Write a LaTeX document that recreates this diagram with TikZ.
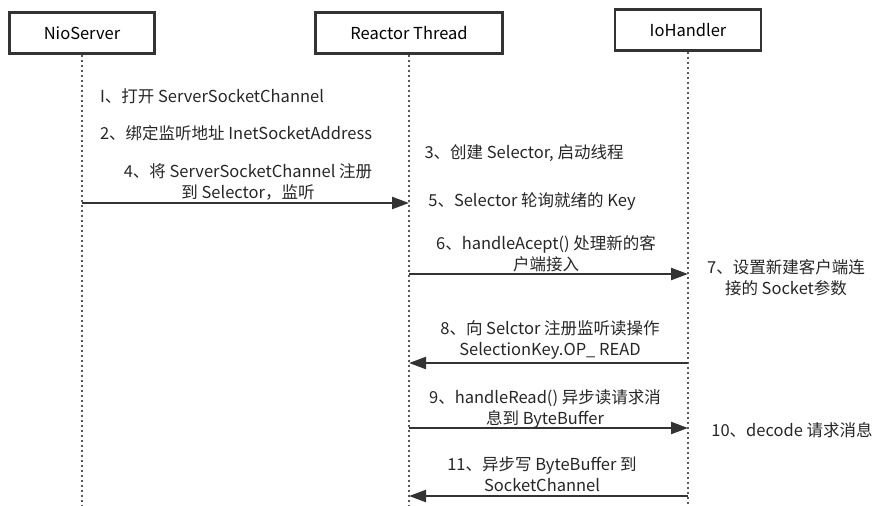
\documentclass[tikz,border=0pt]{standalone}
\usepackage{fontspec}
\setmainfont{Noto Sans CJK SC}
\usetikzlibrary{positioning,arrows.meta}

\begin{document}
\begin{tikzpicture}[x=1pt,y=-1pt,font=\fontsize{16.5}{21}\selectfont,
  actor/.style={draw=black!80,line width=2.2pt,minimum height=41pt,inner sep=0pt},
  life/.style={draw=black!65,line width=2.2pt,dash pattern=on 2pt off 3pt},
  msg/.style={draw=black!80,line width=2.2pt,-{Triangle[length=17pt,width=12pt]}},
  note/.style={align=center,inner sep=0pt,text=black!85}]
   \useasboundingbox (0,0) rectangle (889,506);
   % participants
   \node[actor,minimum width=145pt] (nio) at (82,33)  {NioServer};
   \node[actor,minimum width=187pt] (rt)  at (409,33) {Reactor Thread};
   \node[actor,minimum width=146pt] (io)  at (688,30) {IoHandler};
   \coordinate (nio_end) at (82,506);
   \coordinate (rt_end)  at (409,506);
   \coordinate (io_end)  at (688,506);
   \draw[life] (nio) -- (nio_end);
   \draw[life] (rt)  -- (rt_end);
   \draw[life] (io)  -- (io_end);
   % message ends
   \coordinate (nio_4) at (82,203);
   \coordinate (rt_4)  at (409,203);
   \coordinate (rt_6)  at (409,274);
   \coordinate (io_6)  at (688,274);
   \coordinate (rt_8)  at (409,363);
   \coordinate (io_8)  at (688,363);
   \coordinate (rt_9)  at (409,428);
   \coordinate (io_9)  at (688,428);
   \coordinate (rt_11) at (409,496);
   \coordinate (io_11) at (688,496);
   \draw[msg] (nio_4) -- (rt_4);
   \draw[msg] (rt_6)  -- (io_6);
   \draw[msg] (io_8)  -- (rt_8);
   \draw[msg] (rt_9)  -- (io_9);
   \draw[msg] (io_11) -- (rt_11);
   % labels
   \node[note] (m_1)  at (212,96)  {I、打开 ServerSocketChannel};
   \node[note] (m_2)  at (236,133) {2、绑定监听地址 InetSocketAddress};
   \node[note] (m_4)  at (248,182) {4、将 ServerSocketChannel 注册\\到 Selector，监听};
   \node[note] (m_3)  at (524,153) {3、创建 Selector, 启动线程};
   \node[note] (m_5)  at (532,201) {5、Selector 轮询就绪的 Key};
   \node[note] (m_6)  at (546,254) {6、handleAcept() 处理新的客\\户端接入};
   \node[note] (m_7)  at (786,278) {7、设置新建客户端连\\接的 Socket参数};
   \node[note] (m_8)  at (550,340) {8、向 Selctor 注册监听读操作\\SelectionKey.OP\_ READ};
   \node[note] (m_9)  at (545,409) {9、handleRead() 异步读请求消\\息到 ByteBuffer};
   \node[note] (m_10) at (792,430) {10、decode 请求消息};
   \node[note] (m_11) at (542,474) {11、异步写 ByteBuffer 到\\SocketChannel};
\end{tikzpicture}
\end{document}
